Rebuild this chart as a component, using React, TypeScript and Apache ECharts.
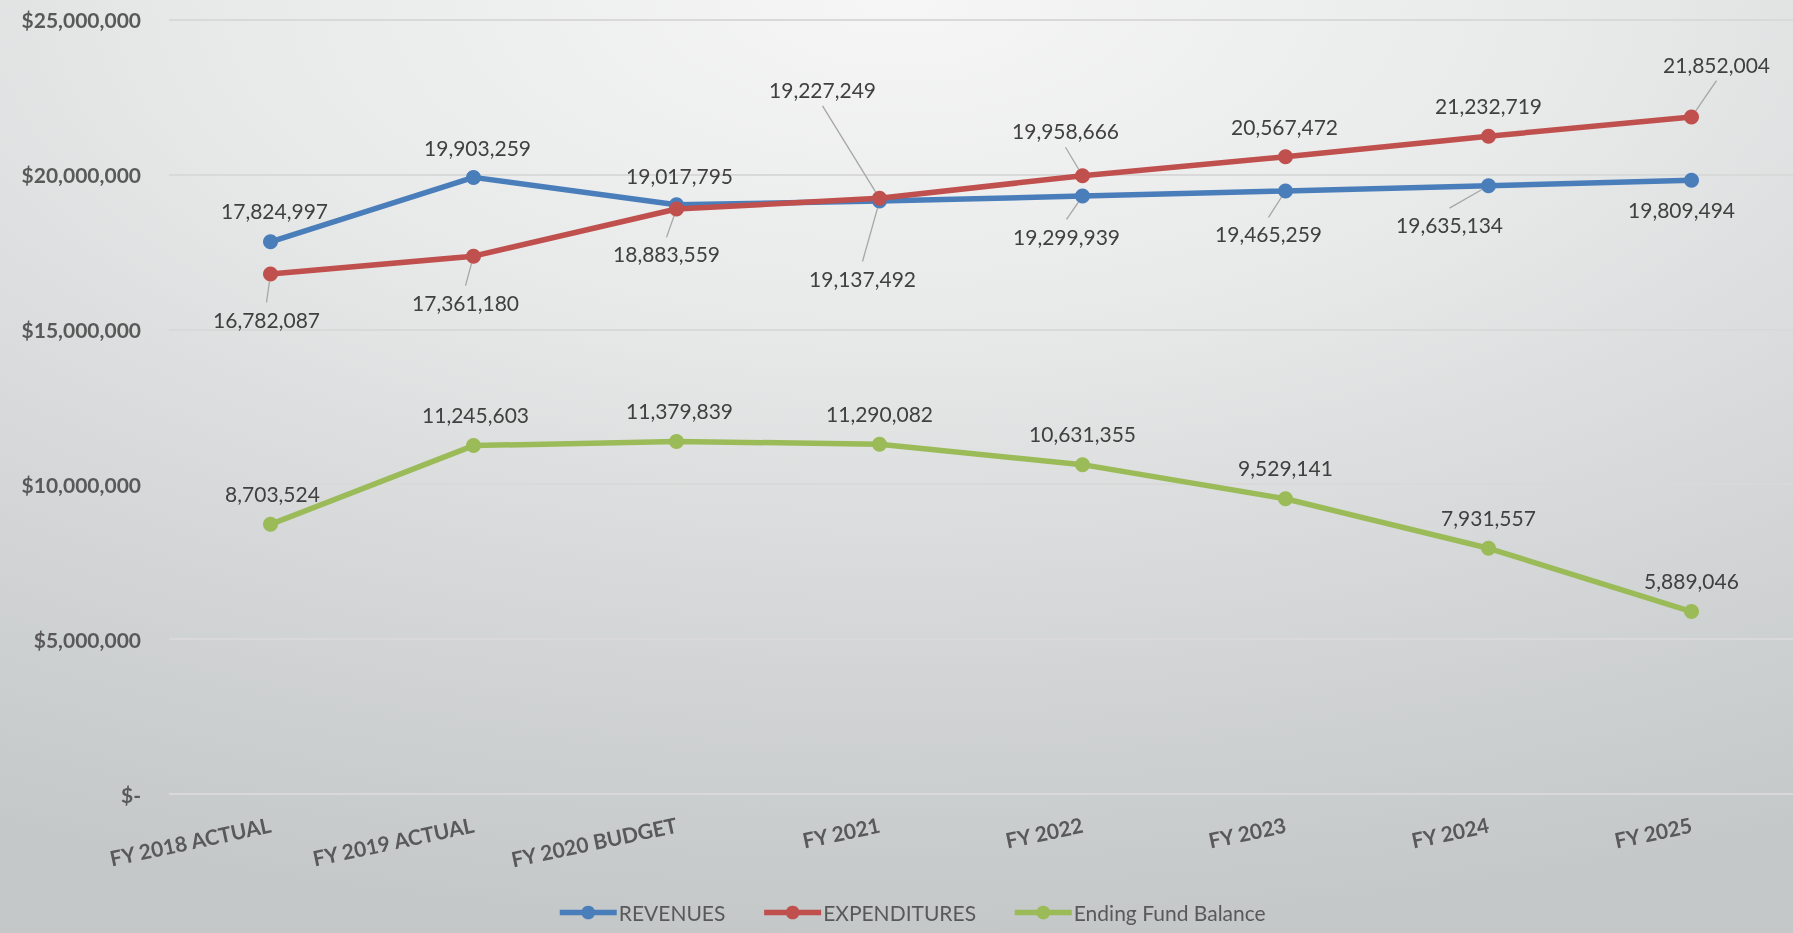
import React, { useEffect, useRef } from "react";
import * as echarts from "echarts";

const categories = [
  "FY 2018 ACTUAL",
  "FY 2019 ACTUAL",
  "FY 2020 BUDGET",
  "FY 2021",
  "FY 2022",
  "FY 2023",
  "FY 2024",
  "FY 2025",
];
const revenues = [17824997, 19903259, 19017795, 19137492, 19299939, 19465259, 19635134, 19809494];
const expenditures = [16782087, 17361180, 18883559, 19227249, 19958666, 20567472, 21232719, 21852004];
const fundBalance = [8703524, 11245603, 11379839, 11290082, 10631355, 9529141, 7931557, 5889046];
const yTicks = [0, 5000000, 10000000, 15000000, 20000000, 25000000];

// label placement (pixel offsets from the point) and leader-line flags
const revOffsets = [[4, -31], [4, -30], [3, -29], [-17, 77], [-16, 40], [-17, 43], [-39, 39], [-10, 29]];
const expOffsets = [[-4, 45], [-8, 46], [-10, 45], [-57, -109], [-17, -45], [-1, -30], [0, -31], [25, -53]];
const fundOffsets = [[2, -31], [2, -31], [3, -31], [0, -31], [0, -31], [0, -31], [0, -31], [0, -31]];
const revLeaders = [false, false, false, true, true, true, true, false];
const expLeaders = [true, true, true, true, true, false, false, true];

const fmt = (v: number) => v.toLocaleString("en-US");

export default function App() {
  const ref = useRef<HTMLDivElement>(null);
  useEffect(() => {
    if (!ref.current) return;
    const chart = echarts.init(ref.current, null, { renderer: "svg" });
    const font = "Lato, 'Open Sans', sans-serif";
    const labelSize = 21;
    const symbolSize = 15;

    const mkSeries = (name: string, values: number[], color: string, offsets: number[][]) => ({
      name,
      type: "line",
      data: values,
      symbol: "circle",
      symbolSize,
      showSymbol: true,
      lineStyle: { color, width: 5.5 },
      itemStyle: { color },
      label: {
        show: true,
        position: "inside",
        formatter: (p: any) => fmt(p.value),
        color: "#404040",
        fontFamily: font,
        fontSize: labelSize,
      },
      labelLayout: (p: any) => {
        const o = offsets[p.dataIndex] || [0, 0];
        const cx = p.rect.x + p.rect.width / 2;
        const cy = p.rect.y + p.rect.height / 2;
        return { x: cx + o[0], y: cy + o[1], align: "center", verticalAlign: "middle" };
      },
      emphasis: { disabled: true },
      z: 3,
    });

    // leader lines: from label top/bottom edge to the point
    const leaderData: number[][] = [];
    const addLeaders = (values: number[], offsets: number[][], flags: boolean[]) => {
      values.forEach((v, i) => {
        if (flags[i]) leaderData.push([i, v, offsets[i][0], offsets[i][1]]);
      });
    };
    addLeaders(revenues, revOffsets, revLeaders);
    addLeaders(expenditures, expOffsets, expLeaders);

    const leaderSeries = {
      type: "custom",
      name: "leaders",
      silent: true,
      z: 2,
      data: leaderData,
      renderItem: (params: any, api: any) => {
        const pt = api.coord([api.value(0), api.value(1)]);
        const ox = api.value(2);
        const oy = api.value(3);
        const lx = pt[0] + ox;
        const half = labelSize * 0.6 + 4;
        const ly = pt[1] + oy + (oy > 0 ? -half : half);
        const dx = lx - pt[0];
        const dy = ly - pt[1];
        const len = Math.sqrt(dx * dx + dy * dy) || 1;
        const r = symbolSize / 2;
        const ex = pt[0] + (dx / len) * r;
        const ey = pt[1] + (dy / len) * r;
        return {
          type: "line",
          shape: { x1: lx, y1: ly, x2: ex, y2: ey },
          style: { stroke: "#a6a6a6", lineWidth: 1.3 },
        };
      },
    };

    chart.setOption({
      animation: false,
      backgroundColor: "transparent",
      grid: { left: 169, right: 0, top: 19.5, bottom: 139, containLabel: false },
      xAxis: {
        type: "category",
        data: categories,
        boundaryGap: true,
        axisLine: { show: false },
        axisTick: { show: false },
        axisLabel: {
          rotate: 12,
          margin: 30,
          color: "#595959",
          fontWeight: "bold",
          fontFamily: font,
          fontSize: 21,
          interval: 0,
        },
      },
      yAxis: {
        type: "value",
        min: yTicks[0],
        max: yTicks[yTicks.length - 1],
        interval: yTicks[1] - yTicks[0],
        axisLine: { show: false },
        axisTick: { show: false },
        splitLine: { lineStyle: { color: "#d9d9d9", width: 2 } },
        axisLabel: {
          margin: 28,
          color: "#595959",
          fontWeight: "bold",
          fontFamily: font,
          fontSize: 21,
          formatter: (v: number) => (v === 0 ? "$-" : "$" + fmt(v)),
        },
      },
      legend: {
        data: ["REVENUES", "EXPENDITURES", "Ending Fund Balance"],
        left: 552,
        top: 897,
        itemWidth: 57,
        itemHeight: 17,
        itemGap: 36,
        lineStyle: { width: 5.5 },
        textStyle: { color: "#595959", fontFamily: font, fontSize: 21, padding: [0, 0, 0, -3] },
      },
      series: [
        mkSeries("REVENUES", revenues, "#4a7ebb", revOffsets),
        mkSeries("EXPENDITURES", expenditures, "#c0504d", expOffsets),
        mkSeries("Ending Fund Balance", fundBalance, "#9bbb59", fundOffsets),
        leaderSeries,
      ],
    });
    return () => chart.dispose();
  }, []);
  return (
    <div
      style={{
        position: "fixed",
        left: 0,
        top: 0,
        width: 1793,
        height: 933,
        background:
          "radial-gradient(ellipse 110% 100% at 50% 0%, #f6f6f6 0%, #e8e9e9 35%, #d6d8d9 65%, #c4c8c9 100%)",
      }}
    >
      <div ref={ref} style={{ width: 1793, height: 933 }} />
    </div>
  );
}
